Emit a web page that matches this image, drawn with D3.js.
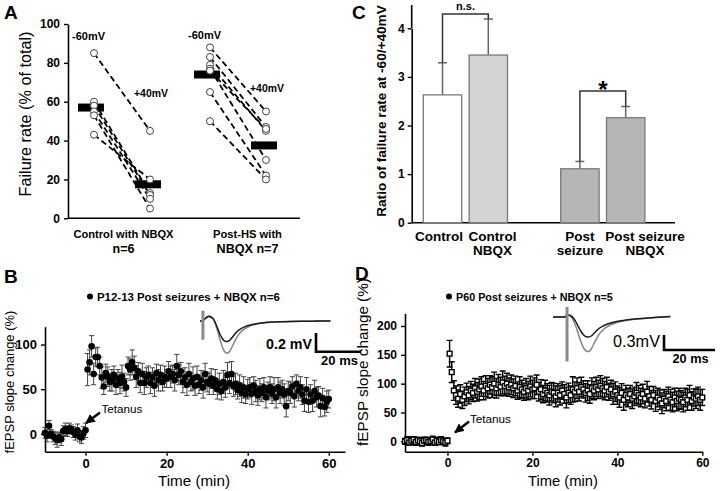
<!DOCTYPE html>
<html><head><meta charset="utf-8">
<script src="https://cdn.jsdelivr.net/npm/d3@7/dist/d3.min.js"></script>
<style>body{margin:0;background:#fff;}svg{display:block;}</style>
</head><body>
<script>
// ---------------- DATA ----------------
// Panel A
const groupsA = ["Control with NBQX", "Post-HS with NBQX"];
const labelLinesA = [["Control with NBQX", "n=6"], ["Post-HS with", "NBQX n=7"]];
const ctrlMinus60 = [85, 60, 58, 55, 53, 43];
const ctrlPlus40  = [45, 13, 12, 10, 5, 20];
const hsMinus60   = [88, 83, 79, 77, 76, 65, 50];
const hsPlus40    = [55, 47, 45, 30, 46, 22, 20];
const meanMinus60 = [57, 74];
const meanPlus40  = [17.5, 37.5];
const ticksA = [0, 20, 40, 60, 80, 100];

// Panel C
const catsC = ["Control", "Control NBQX", "gap", "Post seizure", "Post seizure NBQX"];
const barCats = ["Control", "Control NBQX", "Post seizure", "Post seizure NBQX"];
const barLabelLines = [["Control"], ["Control", "NBQX"], ["Post", "seizure"], ["Post seizure", "NBQX"]];
const meanC = [2.63, 3.45, 1.11, 2.16];
const semC  = [0.66, 0.74, 0.15, 0.23];
const ticksC = [0, 1, 2, 3, 4];

// Panel B (P12-13 Post seizures + NBQX, n=6), sampled every 30 s from -10 to 60 min
const timeB = d3.range(-10, 60.001, 0.5);
const valB = [
  1,-2,9,0,-3,-5,-7,-4,-6,3,5,3,6,5,2,-1,4,-3,-4,1,4,
  72,80,98,67,86,86,76,63,53,68,
  64,58,60,66,55,62,57,64,58,52,
  76,72,80,74,64,70,57,67,57,63,
  66,57,63,54,68,60,66,58,64,62,
  70,64,67,60,76,66,70,58,63,55,
  67,58,62,54,64,55,60,52,67,58,
  56,62,54,60,50,56,48,58,52,66,
  57,67,53,56,49,54,46,52,44,50,
  52,45,54,48,43,50,46,52,41,48,
  52,45,50,41,52,46,50,44,31,48,
  46,53,42,56,48,52,44,37,50,36,
  44,37,48,41,43,31,40,30,36,39];
const errB = [
  6,7,6,5,6,7,8,6,7,6,7,6,6,5,6,6,7,6,7,7,8,
  18,14,12,12,10,11,10,12,9,10,
  11,10,12,10,11,10,12,13,10,10,
  10,12,14,13,12,10,11,12,13,11,
  10,12,11,12,10,12,11,10,12,10,
  11,12,10,12,13,11,10,12,11,12,
  12,10,13,11,12,10,11,12,12,11,
  12,11,10,12,11,12,10,13,11,14,
  12,14,11,12,10,12,11,12,10,11,
  11,12,10,12,11,12,10,11,12,10,
  12,11,13,12,11,12,10,12,12,11,
  12,11,12,10,11,12,11,12,13,12,
  11,12,12,11,10,12,11,10,12,10];
const ticksBx = [0, 20, 40, 60];
const ticksBy = [0, 50, 100];

// Panel D (P60 Post seizures + NBQX, n=5), sampled every 30 s from -10 to 60 min
const timeD = d3.range(-10, 60.001, 0.5);
const valD = [
  0,2,-2,1,3,-1,2,0,-3,1,2,-1,0,3,-2,1,-1,2,0,-2,1,
  152,120,88,80,74,82,72,78,85,80,
  88,84,92,86,90,95,88,96,92,98,
  94,100,92,98,95,102,96,100,94,98,
  92,96,88,94,90,86,92,88,95,90,
  92,98,86,90,82,88,84,80,86,84,
  78,84,80,88,82,76,84,80,90,86,
  92,86,94,90,84,88,82,92,88,94,
  90,96,92,88,94,86,90,82,86,80,
  76,84,72,80,76,82,74,78,84,80,
  76,82,74,86,78,72,80,70,76,72,
  66,74,70,78,72,68,76,70,74,72,
  68,76,72,80,70,76,74,78,72,76];
const errD = [
  5,6,5,6,5,6,5,6,5,6,5,6,5,6,5,6,5,6,5,6,5,
  23,18,17,16,15,16,15,16,16,15,
  16,15,17,16,18,17,16,18,17,16,
  18,20,17,18,16,20,17,18,16,17,
  16,17,15,18,16,15,17,16,18,16,
  18,17,16,17,15,18,16,17,16,17,
  18,16,17,15,16,18,17,16,22,17,
  18,16,17,15,16,17,16,18,16,17,
  16,18,17,16,17,15,16,18,17,16,
  17,16,18,17,16,15,17,16,18,17,
  16,17,16,18,17,16,15,18,16,17,
  18,16,17,16,18,17,16,17,18,16,
  17,16,18,17,16,15,17,16,18,14];
const ticksDx = [0, 20, 40, 60];
const ticksDy = [0, 50, 100, 150, 200];

// Inset traces (ms, mV)
const trB_t   = [0,1,1.5,2,3,4,5,6,7,8,9,10,11,12,13,14,15,16,18,20,22,25,28,32,36,40,45,50,55,58];
const trB_ctl = [0,0,0.01,0.02,0.04,0.05,0.04,0.02,-0.03,-0.09,-0.15,-0.19,-0.215,-0.22,-0.21,-0.185,-0.155,-0.125,-0.085,-0.06,-0.045,-0.03,-0.02,-0.012,-0.008,-0.005,-0.003,-0.002,0,0];
const trB_ltp = [0,0,0.01,0.02,0.04,0.05,0.04,0.02,-0.04,-0.12,-0.21,-0.28,-0.33,-0.345,-0.33,-0.29,-0.24,-0.19,-0.12,-0.08,-0.055,-0.035,-0.022,-0.013,-0.008,-0.005,-0.003,-0.002,0,0];
const trD_t   = [0,2,4,5,5.5,6,7,8,9,10,11,12,13,14,15,16,17,18,20,22,25,28,32,36,40,46];
const trD_ctl = [0.02,0.02,0.02,0.03,0.05,0.06,0.04,0,-0.08,-0.18,-0.27,-0.34,-0.375,-0.38,-0.36,-0.31,-0.26,-0.21,-0.15,-0.11,-0.07,-0.045,-0.02,-0.005,0.01,0.03];
const trD_ltp = [0.02,0.02,0.02,0.03,0.05,0.06,0.03,-0.05,-0.17,-0.33,-0.48,-0.6,-0.66,-0.67,-0.62,-0.52,-0.42,-0.33,-0.22,-0.15,-0.09,-0.055,-0.025,-0.008,0.01,0.03];

// ---------------- DRAW ----------------
const F = "'Liberation Sans', Arial, Helvetica, sans-serif";
const svg = d3.select("body").append("svg").attr("width", 720).attr("height", 491)
  .attr("font-family", F);

svg.append("defs").append("marker").attr("id", "arr").attr("viewBox", "0 0 10 10")
  .attr("refX", 9).attr("refY", 5).attr("markerWidth", 4).attr("markerHeight", 4)
  .attr("orient", "auto").append("path").attr("d", "M0,0L10,5L0,10z").attr("fill", "#000");

function txt(g, x, y, s, size, weight, anchor) {
  return g.append("text").attr("x", x).attr("y", y).text(s)
    .attr("font-size", size).attr("font-weight", weight || "normal")
    .attr("text-anchor", anchor || "start").attr("fill", "#000");
}
function fit(sel, w) {
  sel.each(function () {
    const cur = this.getComputedTextLength();
    const fs = parseFloat(d3.select(this).attr("font-size"));
    if (cur > 0) d3.select(this).attr("font-size", fs * w / cur);
  });
  return sel;
}
function vlabel(g, cx, cy, s, size, w, weight) {
  const t = g.append("text").attr("transform", `translate(${cx},${cy}) rotate(-90)`)
    .attr("text-anchor", "middle").attr("font-size", size).attr("font-weight", weight || "normal")
    .attr("fill", "#000").text(s);
  fit(t, w);
  return t;
}
function styleAxis(g, size) {
  g.select(".domain").attr("stroke", "#000").attr("stroke-width", 1.6);
  g.selectAll(".tick line").attr("stroke", "#000").attr("stroke-width", 1.4);
  g.selectAll(".tick text").attr("font-family", F).attr("font-weight", "bold")
    .attr("font-size", size).attr("fill", "#000");
}

// ===== Panel A =====
const gA = svg.append("g");
txt(gA, 4, 19, "A", 19, "bold");
const yA = d3.scaleLinear().domain([0, 100]).range([218.3, 24]);
const xA = d3.scaleBand().domain(groupsA).range([64, 296]);
const off = 28;
gA.append("g").attr("transform", "translate(68,0)")
  .call(d3.axisLeft(yA).tickValues(ticksA).tickSize(4).tickPadding(4).tickSizeOuter(0))
  .call(g => styleAxis(g, 12));
gA.append("line").attr("x1", 68).attr("x2", 300).attr("y1", yA(0)).attr("y2", yA(0))
  .attr("stroke", "#000").attr("stroke-width", 1.6);
vlabel(gA, 31, 114, "Failure rate (% of total)", 15, 165);

const pairsA = [
  { g: groupsA[0], a: ctrlMinus60, b: ctrlPlus40 },
  { g: groupsA[1], a: hsMinus60, b: hsPlus40 }
];
pairsA.forEach((p, gi) => {
  const cx = xA(p.g) + xA.bandwidth() / 2;
  p.a.forEach((v, i) => {
    gA.append("line").attr("x1", cx - off).attr("y1", yA(v)).attr("x2", cx + off).attr("y2", yA(p.b[i]))
      .attr("stroke", "#000").attr("stroke-width", 1.8).attr("stroke-dasharray", "6,3.5");
  });
  [[cx - off - 3, meanMinus60[gi]], [cx + off - 2, meanPlus40[gi]]].forEach(([mx, mv]) => {
    gA.append("rect").attr("x", mx - 13).attr("y", yA(mv) - 4).attr("width", 26).attr("height", 8).attr("fill", "#000");
  });
  p.a.forEach(v => gA.append("circle").attr("cx", cx - off).attr("cy", yA(v)).attr("r", 3.5)
    .attr("fill", "#fff").attr("stroke", "#444").attr("stroke-width", 1));
  p.b.forEach(v => gA.append("circle").attr("cx", cx + off).attr("cy", yA(v)).attr("r", 3.5)
    .attr("fill", "#fff").attr("stroke", "#444").attr("stroke-width", 1));
  fit(txt(gA, cx - off - 22, gi === 0 ? 40 : 39, "-60mV", 12, "bold"), 33);
  fit(txt(gA, cx + off - 16, gi === 0 ? 97 : 92, "+40mV", 12, "bold"), 34);
  const lx = cx + (gi === 0 ? 1.5 : 9.5);
  fit(txt(gA, lx, 238, labelLinesA[gi][0], 12, "bold", "middle"), gi === 0 ? 100 : 69);
  fit(txt(gA, lx, 253, labelLinesA[gi][1], 12, "bold", "middle"), gi === 0 ? 22 : 62);
});

// ===== Panel C =====
const gC = svg.append("g");
txt(gC, 352, 19, "C", 19, "bold");
const yC = d3.scaleLinear().domain([0, 4]).range([222.7, 28.3]);
const xC = d3.scalePoint().domain(catsC).range([442.5, 625.7]);
const bw = 38.4;
gC.append("g").attr("transform", "translate(411.7,0)")
  .call(d3.axisLeft(yC).tickValues(ticksC).tickFormat(d3.format("d")).tickSize(4).tickPadding(3).tickSizeOuter(0))
  .call(g => styleAxis(g, 12));
gC.append("line").attr("x1", 411.7).attr("x2", 411.7).attr("y1", yC(4)).attr("y2", 5)
  .attr("stroke", "#000").attr("stroke-width", 1.6);
gC.append("line").attr("x1", 411.7).attr("x2", 675).attr("y1", yC(0)).attr("y2", yC(0))
  .attr("stroke", "#000").attr("stroke-width", 1.6);
vlabel(gC, 386, 111, "Ratio of failure rate at -60/+40mV", 14, 212, "bold");

const fills = ["#ffffff", "#d3d3d3", "#b6b6b6", "#b6b6b6"];
barCats.forEach((c, i) => {
  const cx = xC(c);
  gC.append("line").attr("x1", cx).attr("x2", cx).attr("y1", yC(meanC[i])).attr("y2", yC(meanC[i] + semC[i]))
    .attr("stroke", "#666").attr("stroke-width", 1.5);
  gC.append("line").attr("x1", cx - 4.5).attr("x2", cx + 4.5).attr("y1", yC(meanC[i] + semC[i])).attr("y2", yC(meanC[i] + semC[i]))
    .attr("stroke", "#666").attr("stroke-width", 1.5);
  gC.append("rect").attr("x", cx - bw / 2).attr("y", yC(meanC[i])).attr("width", bw)
    .attr("height", yC(0) - yC(meanC[i])).attr("fill", fills[i]).attr("stroke", "#7a7a7a").attr("stroke-width", 1.3);
  const lxs = [439, 492.5, 580, 645];
  barLabelLines[i].forEach((s, k) => {
    txt(gC, lxs[i], 241 + k * 14, s, 13.5, "bold", "middle");
  });
});
function bracket(a, b, yTop, ya, yb) {
  gC.append("path").attr("d", `M${a},${ya}V${yTop}H${b}V${yb}`)
    .attr("fill", "none").attr("stroke", "#333").attr("stroke-width", 1.5);
}
bracket(xC(barCats[0]), xC(barCats[1]), 14, yC(meanC[0] + semC[0]), yC(meanC[1] + semC[1]));
bracket(xC(barCats[2]), xC(barCats[3]), 91, yC(meanC[2] + semC[2]), yC(meanC[3] + semC[3]));
txt(gC, 465.5, 10, "n.s.", 11, "bold", "middle");
txt(gC, 603, 98, "*", 24, "bold", "middle");

// ===== Time-course panels =====
function timePanel(o) {
  const g = svg.append("g");
  txt(g, o.letterX, o.letterY, o.letter, 19, "bold");
  const x = d3.scaleLinear().domain(o.xDom).range(o.xRange);
  const y = d3.scaleLinear().domain(o.yDom).range(o.yRange);
  g.append("g").attr("transform", `translate(0,${o.yRange[0]})`)
    .call(d3.axisBottom(x).tickValues(o.xt).tickSize(4).tickPadding(3).tickSizeOuter(0))
    .call(a => styleAxis(a, o.tickFs));
  g.append("g").attr("transform", `translate(${o.xRange[0]},0)`)
    .call(d3.axisLeft(y).tickValues(o.yt).tickSize(4).tickPadding(4).tickSizeOuter(0))
    .call(a => styleAxis(a, o.tickFs));
  vlabel(g, o.ylx, o.yly, "fEPSP slope change (%)", 15, o.ylw);
  fit(txt(g, o.tlx, 486, "Time (min)", 16, "normal", "middle"), o.tlw);
  const cap = o.cap;
  o.t.forEach((t, i) => {
    const cx = x(t), y1 = y(o.v[i] - o.e[i]), y2 = y(o.v[i] + o.e[i]);
    g.append("path").attr("d", `M${cx},${y1}V${y2}M${cx - cap},${y1}H${cx + cap}M${cx - cap},${y2}H${cx + cap}`)
      .attr("stroke", o.errColor).attr("stroke-width", o.errW).attr("fill", "none");
  });
  o.t.forEach((t, i) => {
    if (o.square) {
      g.append("rect").attr("x", x(t) - 2.4).attr("y", y(o.v[i]) - 2.4).attr("width", 4.8).attr("height", 4.8)
        .attr("fill", "#fff").attr("stroke", "#000").attr("stroke-width", 1.4);
    } else {
      g.append("circle").attr("cx", x(t)).attr("cy", y(o.v[i])).attr("r", 3.3).attr("fill", "#000");
    }
  });
  g.append("circle").attr("cx", o.legX).attr("cy", 296.5).attr("r", 3).attr("fill", "#000");
  fit(txt(g, o.legX + 7, 300.5, o.legend, 11, "bold"), o.legW);
  fit(txt(g, o.tetX, o.tetY, "Tetanus", 13), 41);
  g.append("line").attr("x1", o.arr[0]).attr("y1", o.arr[1]).attr("x2", o.arr[2]).attr("y2", o.arr[3])
    .attr("stroke", "#000").attr("stroke-width", 2.4).attr("marker-end", "url(#arr)");
  const tx = d3.scaleLinear().domain([0, 20]).range([o.trX0, o.trX0 + o.ms20]);
  const ty = d3.scaleLinear().domain([0, -o.mvBar]).range([o.trY0, o.trY0 + o.mvPx]);
  const line = d3.line().curve(d3.curveMonotoneX);
  g.append("path").attr("d", line(o.trT.map((t, i) => [tx(t), ty(o.trL[i])])))
    .attr("fill", "none").attr("stroke", "#8a8a8a").attr("stroke-width", 1.6);
  g.append("path").attr("d", line(o.trT.map((t, i) => [tx(t), ty(o.trC[i])])))
    .attr("fill", "none").attr("stroke", "#1a1a1a").attr("stroke-width", 1.5);
  g.append("line").attr("x1", tx(o.stimT)).attr("x2", tx(o.stimT)).attr("y1", ty(o.stim[0])).attr("y2", ty(o.stim[1]))
    .attr("stroke", "#8a8a8a").attr("stroke-width", 3);
  const sx = o.sb[0], sy = o.sb[1];
  g.append("path").attr("d", `M${sx},${sy - o.mvPx}V${sy}H${sx + o.ms20}`)
    .attr("fill", "none").attr("stroke", "#000").attr("stroke-width", 2.6);
  fit(txt(g, sx - 4, sy - 3, o.mvText, o.mvFs, o.mvWeight, "end"), o.mvW);
  fit(txt(g, sx + o.ms20 / 2 + 1, sy + 13, "20 ms", 12, "bold", "middle"), o.msW);
}

timePanel({
  letter: "B", letterX: 4, letterY: 283,
  xDom: [-10, 64], xRange: [45, 345], yDom: [-20, 120], yRange: [451.7, 326.7],
  xt: ticksBx, yt: ticksBy, tickFs: 13,
  ylx: 14, yly: 382, ylw: 143, tlx: 194, tlw: 72,
  t: timeB, v: valB, e: errB, cap: 2.6, errColor: "#444", errW: 1, square: false,
  legX: 90, legend: "P12-13 Post seizures + NBQX  n=6", legW: 183,
  tetX: 101.5, tetY: 413, arr: [100, 412.5, 86, 423],
  trX0: 200, ms20: 45, trY0: 321, mvBar: 0.2, mvPx: 18.7,
  trT: trB_t, trC: trB_ctl, trL: trB_ltp, stimT: 1.3, stim: [0.11, -0.2],
  sb: [316, 351.7], mvText: "0.2 mV", mvFs: 13, mvWeight: "bold", mvW: 46, msW: 37
});

timePanel({
  letter: "D", letterX: 355, letterY: 280,
  xDom: [-10, 60], xRange: [405, 702.3], yDom: [-18, 222], yRange: [451.7, 313.3],
  xt: ticksDx, yt: ticksDy, tickFs: 12,
  ylx: 368, yly: 362, ylw: 168, tlx: 563, tlw: 70,
  t: timeD, v: valD, e: errD, cap: 3, errColor: "#000", errW: 1.4, square: true,
  legX: 449, legend: "P60 Post seizures + NBQX  n=5", legW: 157,
  tetX: 470, tetY: 423, arr: [469, 421.5, 455, 432.5],
  trX0: 553, ms20: 51, trY0: 318, mvBar: 0.3, mvPx: 15,
  trT: trD_t, trC: trD_ctl, trL: trD_ltp, stimT: 5.5, stim: [0.22, -0.87],
  sb: [664, 350], mvText: "0.3mV", mvFs: 17, mvWeight: "normal", mvW: 47, msW: 36
});
</script>
</body></html>
